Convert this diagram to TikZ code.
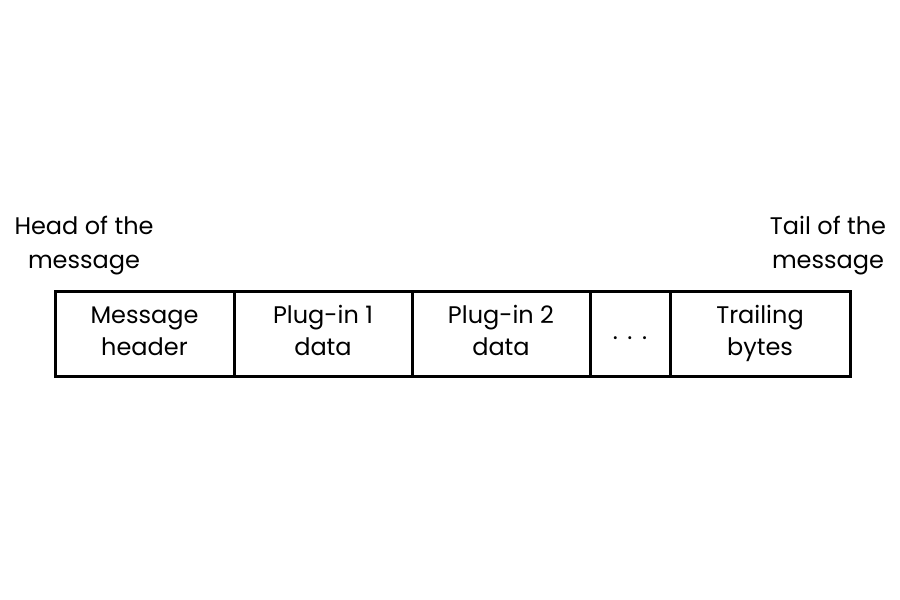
\documentclass[tikz,border=0pt]{standalone}
\usepackage{fontspec}
\setmainfont{Poppins}
\begin{document}
\begin{tikzpicture}[x=0.5pt,y=-0.5pt,
  cell/.style={draw,line width=1.5pt,minimum height=42.5pt,inner sep=0pt,align=center,
    font=\fontsize{12}{16}\selectfont},
  lbl/.style={align=center,inner sep=0pt,font=\fontsize{12}{17}\selectfont}]
\useasboundingbox[fill=white] (0,0) rectangle (900,600);
\node[cell,minimum width=89.5pt] (hdr) at (144.5,333.5) {Message\strut\\header\strut};
\node[cell,minimum width=89pt] (p1) at (323,333.5) {Plug-in 1\strut\\data\strut};
\node[cell,minimum width=89pt] (p2) at (501,333.5) {Plug-in 2\strut\\data\strut};
\node[cell,minimum width=40pt] (dots) at (630,333.5) {.\hspace{0.4em}.\hspace{0.4em}.\strut};
\node[cell,minimum width=90pt] (trail) at (760,333.5) {Trailing\strut\\bytes\strut};
\node[lbl,anchor=north] (head) at (84,216) {Head of the\\message};
\node[lbl,anchor=north] (tail) at (828,216) {Tail of the\\message};
\end{tikzpicture}
\end{document}
